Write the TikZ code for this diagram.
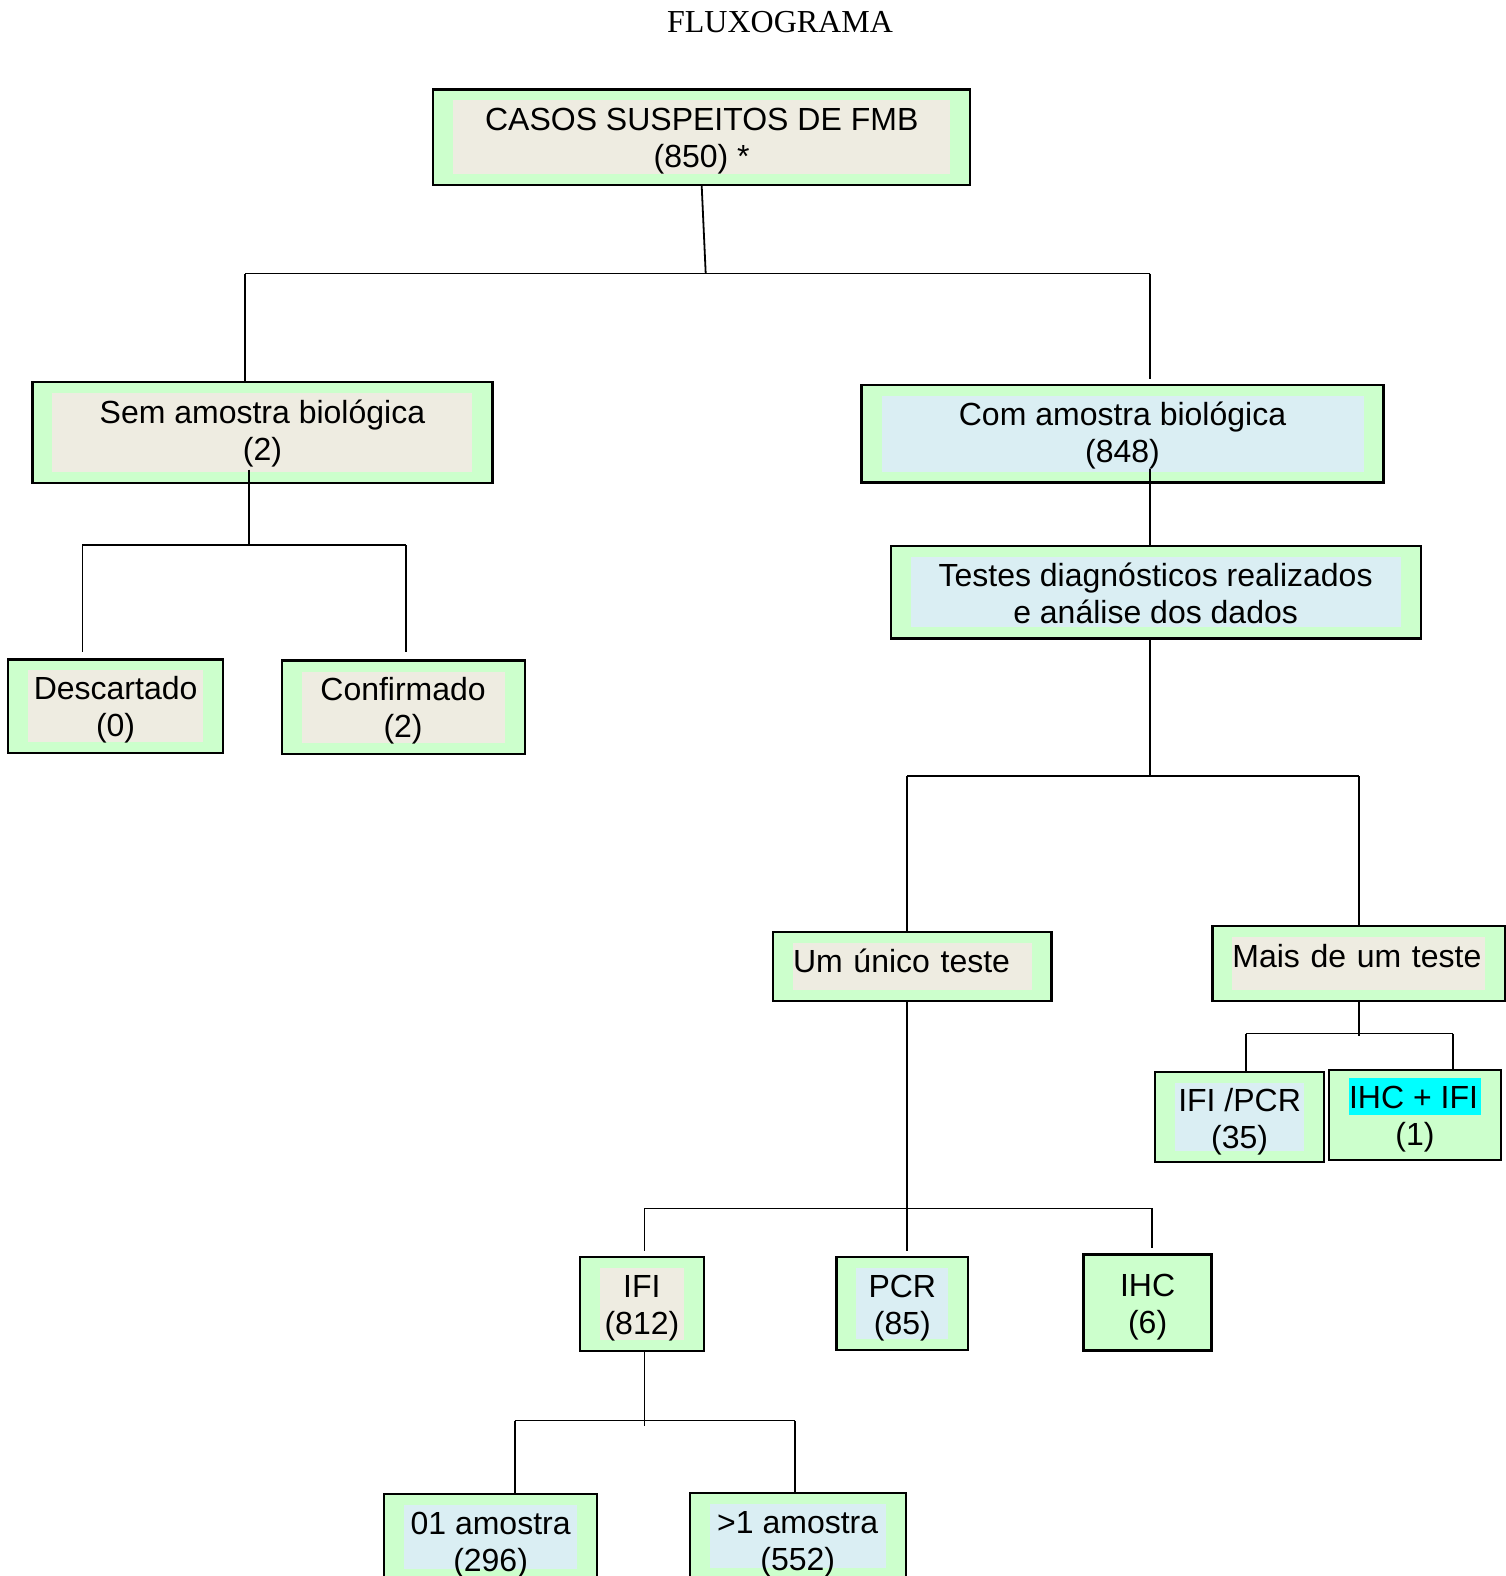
\documentclass[tikz,border=0pt]{standalone}
\usepackage{fontspec}
\setmainfont{Liberation Serif}
\setsansfont{Liberation Sans}
\usetikzlibrary{calc}
\definecolor{boxgreen}{HTML}{CCFFCC}
\definecolor{boxtan}{HTML}{EEECE1}
\definecolor{boxblue}{HTML}{DAEEF3}
\definecolor{marker}{HTML}{00FFFF}
\setlength{\fboxsep}{0pt}
\newcommand{\topgap}[1][31pt]{\rule{0pt}{#1}}
\tikzset{%
	greenbox/.style = {draw,line width=2.2pt,fill=boxgreen,align=center,inner sep=0pt,
		font=\sffamily\fontsize{32}{37}\selectfont},
	tanbox/.style = {greenbox,path picture={\fill[boxtan]
			([shift={(20,11)}]path picture bounding box.north west) rectangle
			([shift={(-20,-11)}]path picture bounding box.south east);}},
	bluebox/.style = {greenbox,path picture={\fill[boxblue]
			([shift={(20,11)}]path picture bounding box.north west) rectangle
			([shift={(-20,-11)}]path picture bounding box.south east);}},
	size/.style 2 args = {minimum width=#1,minimum height=#2},
	leftbox/.style 2 args = {align=left,text width=#1,text depth=#2},
	link/.style = {line width=1.8pt}%
}
\begin{document}
\begin{tikzpicture}[x=1pt,y=-1pt]
		\useasboundingbox (0,0) rectangle (1506,1576);
		\clip (0,0) rectangle (1506,1576);
		
		\node (titulo)[font=\rmfamily\fontsize{32}{37}\selectfont] at (780,22) {FLUXOGRAMA};
		
		\node (casos)[tanbox,size={537}{95.5}] at (701.7,137.2) {\topgap CASOS SUSPEITOS DE FMB\\(850) *};
		\node (sem)[tanbox,size={460}{100.6}] at (262.4,432.3) {\topgap[26pt]Sem amostra biológica\\(2)};
		\node (com)[bluebox,size={522}{97.5}] at (1122.5,433.8) {\topgap[28pt]Com amostra biológica\\(848)};
		\node (testes)[bluebox,size={530}{92.5}] at (1155.6,592.2) {\topgap[26pt]Testes diagnósticos realizados\\e análise dos dados};
		\node (desc)[tanbox,size={215}{93.5}] at (115.6,706.2) {\topgap Descartado\\(0)};
		\node (conf)[tanbox,size={243}{93.5}] at (403.1,707.3) {\topgap Confirmado\\(2)};
		\node (unico)[tanbox,size={278.5}{69.3},leftbox={238.5pt}{20pt}] at (912.3,966.6) {\topgap Um único teste};
		\node (mais)[tanbox,size={292.6}{75.4},leftbox={252.6pt}{24pt}] at (1358.7,963.6) {\topgap Mais de um teste};
		\node (ifipcr)[bluebox,size={169}{90.5}] at (1239.6,1117) {\topgap[33pt]IFI /PCR\\(35)};
		\node (ihcifi)[greenbox,size={172}{90.5}] at (1415,1115) {\colorbox{marker}{\rule[-6pt]{0pt}{37pt}IHC + IFI\hspace{3pt}}\\(1)};
		\node (ifi)[tanbox,size={123.6}{94.5}] at (641.9,1304) {\topgap IFI\\(812)};
		\node (pcr)[bluebox,size={131.7}{93.5}] at (902.3,1303.5) {\topgap PCR\\(85)};
		\node (ihc)[greenbox,size={127.6}{95.5},line width=3pt] at (1147.6,1302.5) {\topgap IHC\\(6)};
		\node (uma)[bluebox,size={213}{86}] at (490.6,1537) {\topgap[39pt]01 amostra\\(296)};
		\node (varias)[bluebox,size={216}{86}] at (797.7,1536) {\topgap[39pt]>1 amostra\\(552)};
		
		\coordinate (r1) at (705.7,273.5);
		\coordinate (r1a) at (245.3,273.5);
		\coordinate (r1b) at (1150.1,273.5);
		\draw[link] (casos.south) -- (r1);
		\draw[link] (r1a) -- (r1b);
		\draw[link] (r1a) -- (r1a |- sem.north);
		\draw[link] (r1b) -- ($(r1b |- com.north)+(0,-5)$);
		
		\coordinate (r2) at (249,545);
		\coordinate (r2a) at (82.4,545);
		\coordinate (r2b) at (406.2,545);
		\draw[link] ($(r2 |- sem.south)+(0,-14)$) -- (r2);
		\draw[link] (r2a) -- (r2b);
		\draw[link] (r2a) -- ($(r2a |- desc.north)+(0,-6)$);
		\draw[link] (r2b) -- ($(r2b |- conf.north)+(0,-7)$);
		
		\coordinate (r3) at (1150,545.9);
		\draw[link] ($(r3 |- com.south)+(0,-15)$) -- (r3);
		
		\coordinate (r4) at (1150,776);
		\coordinate (r4a) at (906.8,776);
		\coordinate (r4b) at (1359.2,776);
		\draw[link] (r4 |- testes.south) -- (r4);
		\draw[link] (r4a) -- (r4b);
		\draw[link] (r4a) -- (r4a |- unico.north);
		\draw[link] (r4b) -- (r4b |- mais.north);
		
		\coordinate (r5) at (1359.2,1033.5);
		\coordinate (r5a) at (1245.6,1033.5);
		\coordinate (r5b) at (1452.7,1033.5);
		\draw[link] (r5 |- mais.south) -- ($(r5)+(0,2)$);
		\draw[link] (r5a) -- (r5b);
		\draw[link] (r5a) -- (r5a |- ifipcr.north);
		\draw[link] (r5b) -- (r5b |- ihcifi.north);
		
		\coordinate (r6) at (906.8,1208.4);
		\coordinate (r6a) at (644.4,1208.4);
		\coordinate (r6b) at (1152.1,1208.4);
		\draw[link] (r6 |- unico.south) -- (r6);
		\draw[link] (r6a) -- (r6b);
		\draw[link] (r6a) -- ($(r6a |- ifi.north)+(0,-5)$);
		\draw[link] (r6) -- ($(r6 |- pcr.north)+(0,-5)$);
		\draw[link] (r6b) -- ($(r6b |- ihc.north)+(0,-5)$);
		
		\coordinate (r7) at (644.4,1420.5);
		\coordinate (r7a) at (514.7,1420.5);
		\coordinate (r7b) at (795.2,1420.5);
		\draw[link] (r7 |- ifi.south) -- ($(r7)+(0,5)$);
		\draw[link] (r7a) -- (r7b);
		\draw[link] (r7a) -- (r7a |- uma.north);
		\draw[link] (r7b) -- (r7b |- varias.north);
		\end{tikzpicture}
\end{document}
